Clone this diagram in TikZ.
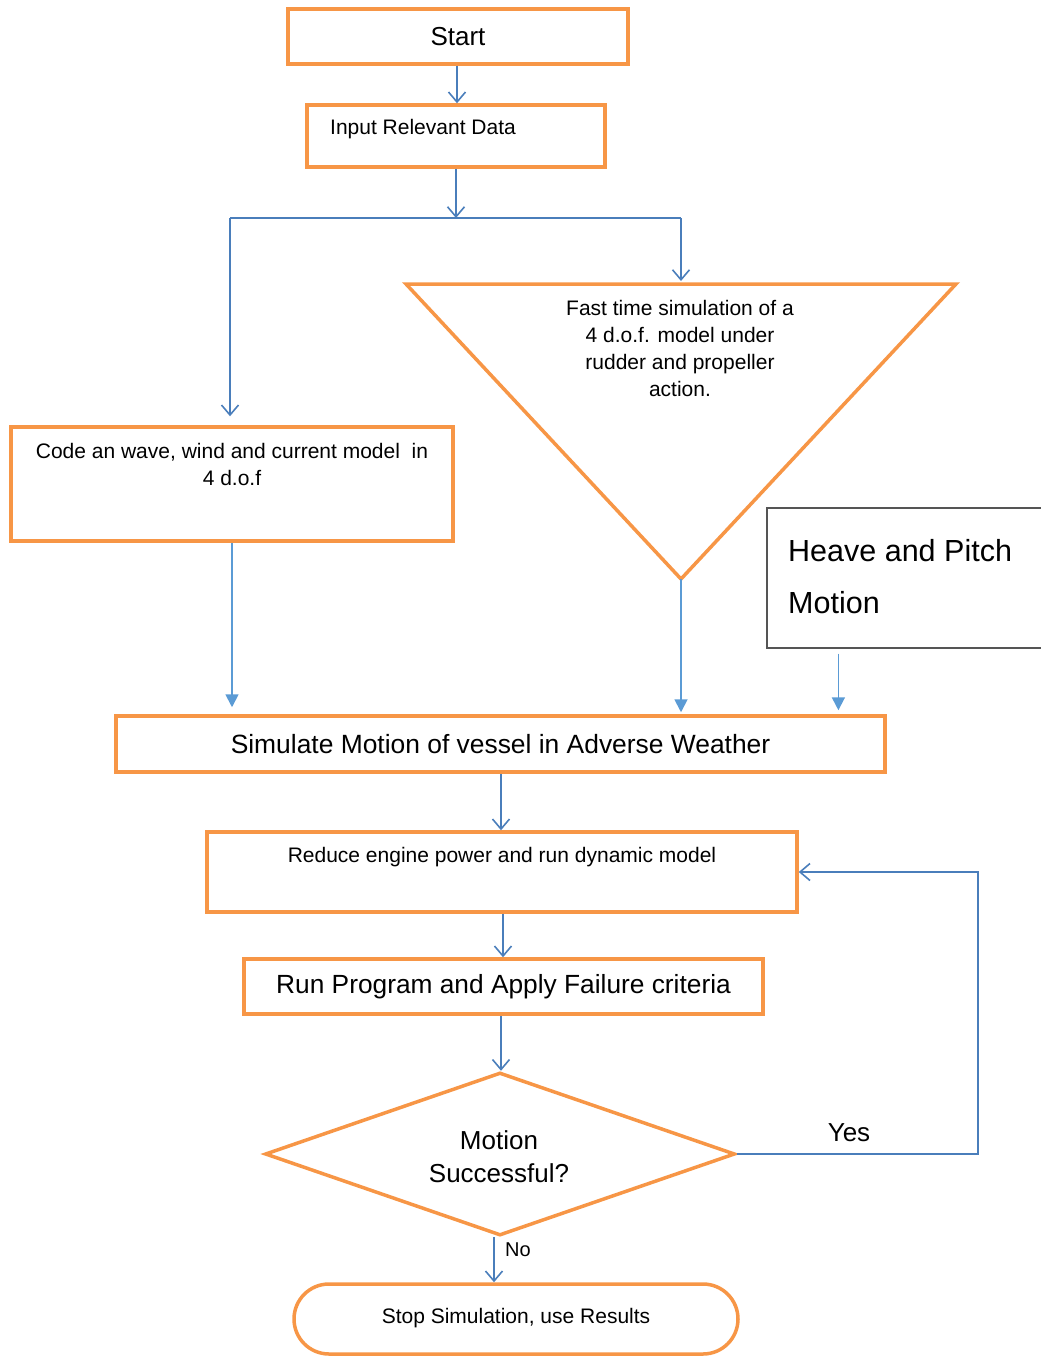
\documentclass[tikz,border=0pt]{standalone}
\usepackage{fontspec}
\setmainfont{Liberation Sans}
\usetikzlibrary{arrows.meta,shapes.geometric,shapes.misc,calc}
\definecolor{orng}{HTML}{F79646}
\definecolor{flowblue}{HTML}{4A7EBB}
\definecolor{lightblue}{HTML}{5B9BD5}
\definecolor{framegray}{HTML}{555555}
\newcommand{\fs}[2]{\fontsize{#1}{#2}\selectfont}
\tikzset{
  box/.style={draw=orng, line width=3.5pt, inner sep=0pt, fill=white},
  plainbox/.style={draw=framegray, line width=1.2pt, inner sep=0pt},
  txt/.style={inner sep=0pt, align=center},
  conn/.style={draw=flowblue, line width=1.6pt, -{Straight Barb[length=10pt,width=17pt,line width=1.6pt]}},
  connfill/.style={draw=lightblue, line width=1.8pt, -{Triangle[length=13pt,width=13pt]}},
  line/.style={draw=flowblue, line width=1.6pt}
}
\begin{document}
\begin{tikzpicture}[x=1pt,y=-1pt]
\useasboundingbox (0,0) rectangle (1041,1357);

% process boxes
\node[box, minimum width=340pt, minimum height=55pt] (start) at (458,36.5) {};
\node[txt, font=\fs{26}{30}] at (start) {Start};

\node[box, minimum width=298pt, minimum height=62pt] (input) at (456,136) {};
\node[txt, anchor=west, font=\fs{21}{27}] at (330,129) {Input Relevant Data};

\node[box, minimum width=442pt, minimum height=114pt] (code) at (232,484) {};
\node[txt, font=\fs{21}{27}] at (232,464.5) {Code an wave, wind and current model\ \ in\\4 d.o.f};

% inverted triangle
\coordinate (triTL) at (406,284);
\coordinate (triTR) at (956,284);
\coordinate (triBot) at (681,579);
\coordinate (triTop) at (681,284);
\draw[orng, line width=3.5pt, line join=miter] (triTL) -- (triTR) -- (triBot) -- cycle;
\node[txt, font=\fs{21}{27}] at (680,348.5) {Fast time simulation of a\\4 d.o.f. model under\\rudder and propeller\\action.};

\node[plainbox, minimum width=279pt, minimum height=140pt] (heave) at (906.5,578) {};
\node[txt, align=left, anchor=west, font=\fs{30.5}{52}] at (788,577) {Heave and Pitch\\Motion};

\node[box, minimum width=769pt, minimum height=56pt] (simulate) at (500.5,744) {};
\node[txt, font=\fs{26.4}{30}] at (simulate) {Simulate Motion of vessel in Adverse Weather};

\node[box, minimum width=590pt, minimum height=80pt] (reduce) at (502,872) {};
\node[txt, font=\fs{21}{27}] at (502,857) {Reduce engine power and run dynamic model};

\node[box, minimum width=519pt, minimum height=55pt] (run) at (503.5,986.5) {};
\node[txt, font=\fs{26.3}{30}] at (run) {Run Program and Apply Failure criteria};

\node[box, diamond, minimum width=470pt, minimum height=163pt] (decide) at (500,1154) {};
\node[txt, font=\fs{26}{33}] at (499,1156.5) {Motion\\Successful?};

\node[box, rounded rectangle, minimum width=444pt, minimum height=70pt] (stop) at (516,1319) {};
\node[txt, font=\fs{21}{27}] at (516,1318) {Stop Simulation, use Results};

% connectors
\draw[conn] (start.south -| 457,0) -- (input.north -| 457,0);
\coordinate (split) at (456,218);
\draw[conn] (input.south) -- (split);
\draw[line] (split) -- (230,218) coordinate (splitL);
\draw[line] (split) -- (681,218) coordinate (splitR);
\draw[conn, shorten >=9pt] (splitL) -- (splitL |- code.north);
\draw[conn, shorten >=3pt] (splitR) -- (triTop);

\draw[connfill, shorten >=7pt] (code.south) -- (code.south |- simulate.north);
\draw[connfill, shorten >=2pt] (triBot) -- (triBot |- simulate.north);
\draw[connfill, shorten <=5pt, shorten >=4pt] ([xshift=72pt]heave.south west) -- ([xshift=72pt]heave.south west |- simulate.north);

\draw[conn] (simulate.south -| 501,0) -- (reduce.north -| 501,0);
\draw[conn] (reduce.south -| 503,0) -- (run.north -| 503,0);
\draw[conn] (run.south -| 501,0) -- (decide.north -| 501,0);

\draw[conn] (decide.south -| 494,0) -- (stop.north -| 494,0);
\node[txt, anchor=west, font=\fs{20}{24}] at (505,1250) {No};

\draw[conn] (decide.east) -- (decide.east -| 978,0) |- (reduce.east);
\node[txt, font=\fs{26}{30}] at (849,1133) {Yes};
\end{tikzpicture}
\end{document}
